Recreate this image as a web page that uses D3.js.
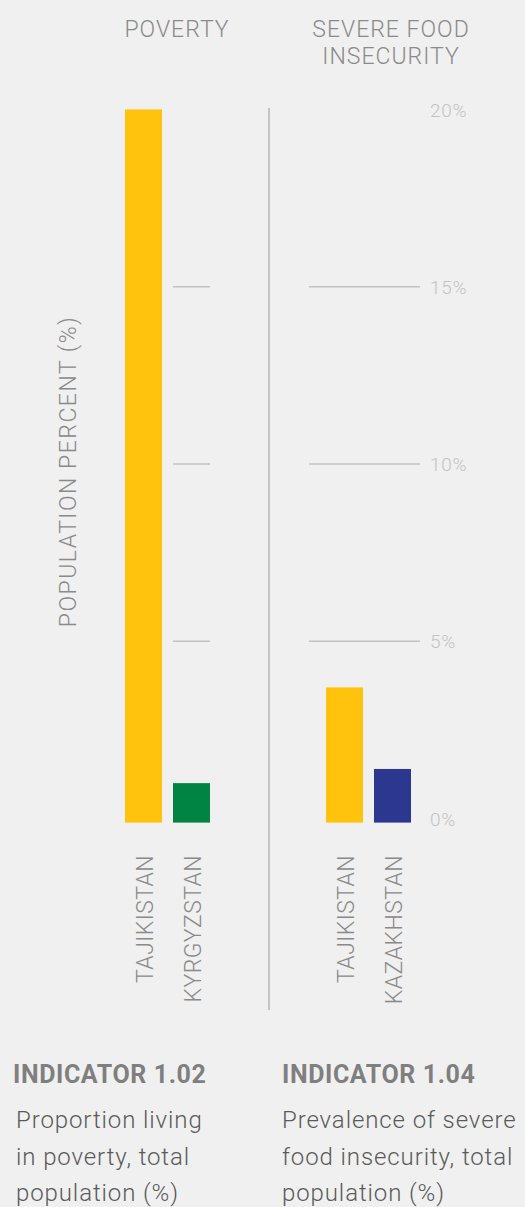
<!DOCTYPE html>
<html>
<head>
<meta charset="utf-8">
<script src="https://cdn.jsdelivr.net/npm/d3@7"></script>
<style>
  html, body { margin: 0; padding: 0; background: #f0f0f0; }
  svg { display: block; }
  text { font-family: Roboto, "Noto Sans", sans-serif; }
</style>
</head>
<body>
<svg id="chart" width="525" height="1207"></svg>
<script>
// Poverty panel (indicator 1.02)
const povertyCountries = ["TAJIKISTAN", "KYRGYZSTAN"];
const povertyValues = [20.0, 1.0];
const povertyColors = ["#ffc30e", "#008444"];

// Severe food insecurity panel (indicator 1.04)
const foodCountries = ["TAJIKISTAN", "KAZAKHSTAN"];
const foodValues = [3.7, 1.4];
const foodColors = ["#ffc30e", "#2c3890"];

// Shared percent axis
const tickValues = [0, 5, 10, 15, 20];
const gridValues = [5, 10, 15];
const tickLabels = ["0%", "5%", "10%", "15%", "20%"];

const panelTitles = [["POVERTY"], ["SEVERE FOOD", "INSECURITY"]];
const indicatorTitles = ["INDICATOR 1.02", "INDICATOR 1.04"];
const indicatorText = [
  ["Proportion living", "in poverty, total", "population (%)"],
  ["Prevalence of severe", "food insecurity, total", "population (%)"]
];
const yAxisTitle = "POPULATION PERCENT (%)";

const svg = d3.select("#chart");
const W = 525, H = 1207;
svg.append("rect").attr("width", W).attr("height", H).attr("fill", "#f0f0f0");

const y = d3.scaleLinear().domain([0, 20]).range([818.6, 109.4]);
const barBase = y(0) + 4;

const xPov = d3.scaleBand().domain(povertyCountries).range([125, 210]).paddingInner(0.229).paddingOuter(0);
const xFood = d3.scaleBand().domain(foodCountries).range([326, 411]).paddingInner(0.229).paddingOuter(0);

const gridColor = "#c2c2c2";
const textGray = "#8a8a8a";

// Gridlines: short ones in the poverty panel, longer ones in the food panel
svg.append("g").selectAll("line").data(gridValues).join("line")
  .attr("x1", xPov(povertyCountries[1])).attr("x2", xPov(povertyCountries[1]) + xPov.bandwidth())
  .attr("y1", d => y(d)).attr("y2", d => y(d))
  .attr("stroke", gridColor).attr("stroke-width", 1.6);

svg.append("g").selectAll("line").data(gridValues).join("line")
  .attr("x1", 309).attr("x2", 420)
  .attr("y1", d => y(d)).attr("y2", d => y(d))
  .attr("stroke", gridColor).attr("stroke-width", 1.6);

// Tick labels via a right axis without domain/ticks
const axis = d3.axisRight(y).tickValues(tickValues).tickSize(0).tickPadding(0)
  .tickFormat((d, i) => tickLabels[i]);
const gAxis = svg.append("g").attr("transform", "translate(430,0)").call(axis);
gAxis.select(".domain").remove();
gAxis.selectAll("text")
  .attr("fill", "#c3c3c3")
  .style("font-family", "Roboto, sans-serif")
  .style("font-size", "19px")
  .style("font-weight", 300)
  .style("letter-spacing", "0.7px")
  .attr("dy", "0.35em");

// Divider between panels
svg.append("line")
  .attr("x1", 269).attr("x2", 269).attr("y1", 108).attr("y2", 1010)
  .attr("stroke", "#c4c4c4").attr("stroke-width", 2);

// Bars
svg.append("g").selectAll("rect").data(povertyValues).join("rect")
  .attr("x", (d, i) => xPov(povertyCountries[i]))
  .attr("width", xPov.bandwidth())
  .attr("y", d => y(d))
  .attr("height", d => barBase - y(d))
  .attr("fill", (d, i) => povertyColors[i]);

svg.append("g").selectAll("rect").data(foodValues).join("rect")
  .attr("x", (d, i) => xFood(foodCountries[i]))
  .attr("width", xFood.bandwidth())
  .attr("y", d => y(d))
  .attr("height", d => barBase - y(d))
  .attr("fill", (d, i) => foodColors[i]);

// Rotated category labels
function catLabels(scale, names) {
  svg.append("g").selectAll("text").data(names).join("text")
    .attr("transform", d => `translate(${scale(d) + scale.bandwidth() / 2 + 1},855) rotate(-90)`)
    .attr("text-anchor", "end")
    .attr("dy", "0.36em")
    .attr("fill", textGray)
    .style("font-size", "23px")
    .style("font-weight", 300)
    .style("letter-spacing", "0.4px")
    .text(d => d);
}
catLabels(xPov, povertyCountries);
catLabels(xFood, foodCountries);

// Panel titles
const titleX = [177, 391];
panelTitles.forEach((lines, i) => {
  const t = svg.append("text")
    .attr("x", titleX[i]).attr("y", 37)
    .attr("text-anchor", "middle")
    .attr("fill", textGray)
    .style("font-size", "23px")
    .style("font-weight", 300)
    .style("letter-spacing", "1px");
  lines.forEach((l, j) => t.append("tspan").attr("x", titleX[i]).attr("dy", j === 0 ? 0 : 26.7).text(l));
});

// Vertical axis title
svg.append("text")
  .attr("transform", "translate(68,471.5) rotate(-90)")
  .attr("text-anchor", "middle")
  .attr("dy", "0.36em")
  .attr("fill", textGray)
  .style("font-size", "23px")
  .style("font-weight", 300)
  .style("letter-spacing", "1.5px")
  .text(yAxisTitle);

// Indicator captions
const capX = [13, 282];
indicatorTitles.forEach((t, i) => {
  svg.append("text")
    .attr("x", capX[i]).attr("y", 1083)
    .attr("fill", "#7f7f7f")
    .style("font-size", "25px")
    .style("font-weight", 700)
    .style("letter-spacing", "0.6px")
    .text(t);
  indicatorText[i].forEach((l, j) => {
    svg.append("text")
      .attr("x", capX[i] + (i === 0 ? 3 : 0)).attr("y", 1128 + j * 36.5)
      .attr("fill", "#5a5a5a")
      .style("font-size", "24px")
      .style("font-weight", 300)
      .style("letter-spacing", "0.9px")
      .text(l);
  });
});
</script>
</body>
</html>
